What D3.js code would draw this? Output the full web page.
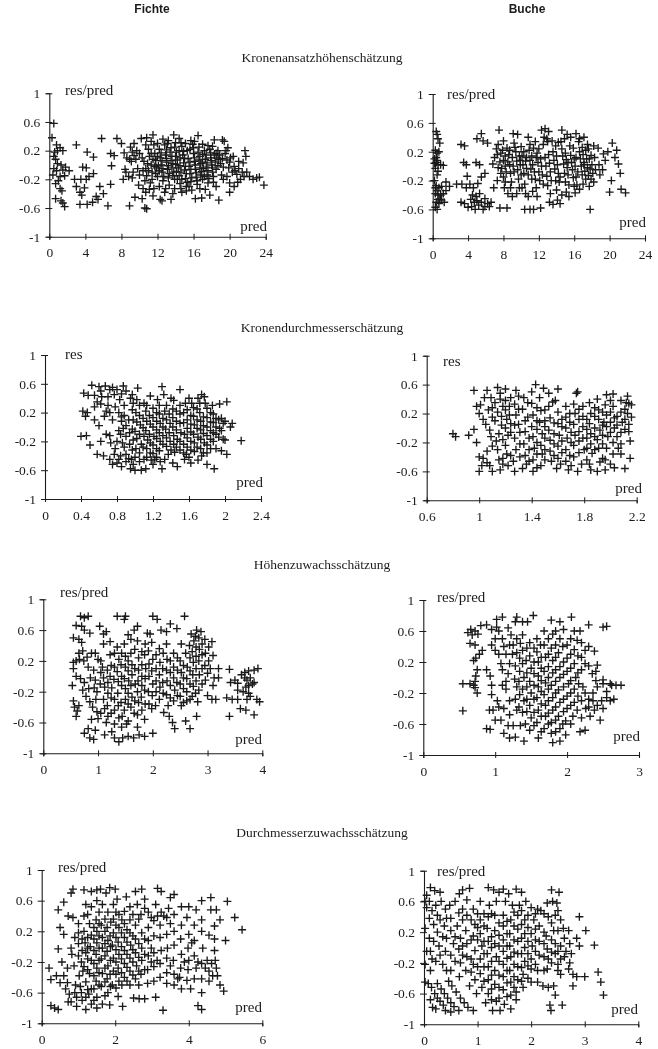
<!DOCTYPE html>
<html><head><meta charset="utf-8">
<script src="https://cdn.jsdelivr.net/npm/d3@7/dist/d3.min.js"></script>
<style>html,body{margin:0;padding:0;background:#fff}svg{display:block;filter:blur(.35px)}</style>
</head><body><svg id="c" width="658" height="1049"></svg>
<script>
const columnTitles=["Fichte","Buche"];
const sectionTitles=["Kronenansatzhöhenschätzung","Kronendurchmesserschätzung","Höhenzuwachsschätzung","Durchmesserzuwachsschätzung"];
const yTicks=[-1,-.6,-.2,.2,.6,1];
const x24=[0,4,8,12,16,20,24], xDm=[0,.4,.8,1.2,1.6,2,2.4], xDmB=[.6,1,1.4,1.8,2.2], x4=[0,1,2,3,4], x3=[0,1,2,3], x6=[0,2,4,6];

const fichteKrone=[[.5,.58],[.3,.38],[.8,.28],[1.2,.24],[.9,.2],[1.5,.2],[.6,.18],[.5,.12],[.7,.08],[3,.28],[4.2,.18],[4.9,.11],[5.8,.37],[7.5,.37],[8,.3],[7.2,.13],[6.8,.16],[.9,.02],[1.3,0],[1.8,-.03],[2.2,-.08],[6.9,-.01],[3.7,-.03],[4.1,-.04],[4.9,-.12],[.4,-.14],[1.2,-.16],[1.7,-.15],[2.8,-.2],[3.5,-.2],[4.1,-.2],[3,-.3],[3.9,-.32],[.7,-.26],[1.4,-.36],[1.2,-.33],[3.4,-.38],[3.6,-.42],[5.6,-.3],[6.8,-.27],[6,-.4],[5.2,-.44],[.7,-.47],[1.3,-.5],[1.5,-.53],[1.7,-.58],[3.4,-.55],[4.2,-.55],[4.8,-.52],[5.4,-.48],[6.5,-.57],[8.9,-.57],[10.6,-.6],[10.8,-.61],[.8,-.08],[1,-.22],[.5,-.05],[1.5,-.07],[4.4,-.16],[8.3,.17],[8.6,.1],[9,.25],[9.4,.3],[9.7,.2],[10.2,.37],[10.8,.38],[11.5,.42],[12,.3],[12.6,.36],[13.2,.34],[13.8,.42],[14.4,.37],[15.7,.34],[16.5,.41],[18.3,.35],[19.2,.35],[19.4,.33],[8.4,-.06],[8.8,-.16],[8.2,-.2],[9.1,.05],[9.3,-.1],[9.8,-.05],[9.9,-.28],[10.4,-.33],[10.7,-.38],[9.5,-.45],[10.3,-.47],[11.5,-.43],[12.3,-.48],[12.5,-.5],[13.5,-.48],[13.7,-.4],[12.2,-.3],[11.2,-.25],[10.3,.1],[10.5,.05],[10.7,-.05],[10.8,-.15],[11,.22],[11.1,.12],[11.3,0],[11.4,-.1],[11.6,.28],[11.7,.16],[11.8,.06],[11.9,-.04],[12,-.16],[12.2,.22],[12.3,.1],[12.4,0],[12.5,-.1],[12.6,-.22],[12.8,.28],[12.9,.14],[13,.04],[13.1,-.06],[13.2,-.18],[13.3,-.28],[13.5,.24],[13.6,.12],[13.7,.02],[13.8,-.1],[13.9,-.2],[14,.31],[14.1,.18],[14.2,.07],[14.3,-.04],[14.4,-.15],[14.5,-.26],[14.7,.26],[14.8,.14],[14.9,.03],[15,-.07],[15.1,-.19],[15.2,-.3],[15.3,.2],[15.4,.09],[15.5,-.02],[15.6,-.12],[15.7,-.23],[15.9,.29],[16,.16],[16.1,.05],[16.2,-.06],[16.3,-.17],[16.4,-.27],[16.6,.25],[16.7,.12],[16.8,.02],[16.9,-.09],[17,-.2],[17.2,.2],[17.3,.08],[17.4,-.03],[17.5,-.14],[17.6,-.25],[17.8,.22],[17.9,.1],[18,0],[18.1,-.1],[18.3,.14],[18.4,.04],[18.5,-.06],[18.7,.2],[18.8,.08],[19,.02],[19.1,-.14],[19.5,.16],[19.7,.07],[19.9,-.04],[20.1,.1],[20.3,-.1],[20.5,-.02],[20.8,-.13],[21,.05],[21.2,-.2],[21.5,.03],[21.7,.2],[21.8,.12],[21.9,-.1],[22.2,-.16],[22.6,-.2],[23,-.18],[23.3,-.17],[23.8,-.28],[20,-.38],[20,-.25],[20.5,-.3],[18.8,-.49],[17.8,-.42],[16.9,-.46],[16.2,-.47],[15.8,-.35],[17.3,-.34],[18.5,-.3],[14.7,-.38],[15.2,-.36],[19.3,-.2],[12.8,-.38],[11.1,-.34]];
const fichteKroneDicht=[[9.2,.18],[9.6,.08],[10,.16],[10,-.14],[10.4,-.08],[10.6,-.22],[10.9,.02],[11,-.08],[11.3,.16],[11.4,-.2],[11.5,.08],[11.7,-.02],[11.8,-.12],[12,.12],[12.1,-.01],[12.2,-.08],[12.4,.17],[12.5,.06],[12.6,-.05],[12.7,-.16],[13,.21],[13,.09],[13.2,-.01],[13.3,-.12],[13.4,.18],[13.5,.06],[13.6,-.04],[13.7,-.15],[13.9,.25],[14,.12],[14,.01],[14.1,-.09],[14.2,-.2],[14.4,.2],[14.5,.1],[14.5,-.01],[14.6,-.1],[14.7,-.2],[14.9,.19],[15,.09],[15.1,-.02],[15.2,-.12],[15.3,-.24],[15.6,.22],[15.6,.04],[15.7,-.06],[15.8,-.18],[16,.24],[16.1,.1],[16.2,0],[16.3,-.11],[16.4,-.22],[16.5,.18],[16.6,.07],[16.7,-.04],[16.8,-.14],[17,.15],[17,.04],[17.1,-.05],[17.2,-.16],[17.4,.14],[17.5,.03],[17.6,-.08],[17.7,-.19],[17.9,.17],[18,.06],[18.1,-.04],[18.2,-.16],[18.5,.16],[18.6,.1],[18.7,-.01],[18.9,.14],[19.2,.09],[19.3,-.03],[19.6,.2],[20,.04],[20.4,.12],[20.6,-.08],[21,-.05],[21.4,-.1],[21.6,-.16],[20.9,-.24],[19.7,-.16],[13.9,-.33],[14.6,-.33],[16.7,-.33],[18.2,-.24],[11.6,-.33],[12.9,-.33],[15.5,-.3],[9.4,.13],[9.2,-.18],[8.9,.08],[8.5,-.1],[10.7,.28],[11.3,.33],[13.1,.3],[14.6,.31],[15.1,.3],[16.1,.33],[17,.29],[17.6,.27],[18.1,.26],[19.8,.24]];

const bucheKrone=[[.4,.48],[.5,.44],[.6,.38],[.8,.32],[.3,.22],[.5,.18],[.7,.2],[.2,.1],[.4,.05],[.6,.02],[.9,.02],[1.2,.01],[.3,-.03],[.6,-.07],[.2,-.2],[.4,-.27],[.7,-.3],[1,-.28],[1.5,-.22],[1.9,-.28],[.3,-.38],[.6,-.4],[.9,-.4],[1.2,-.38],[1.5,-.34],[.4,-.5],[.7,-.52],[1,-.47],[1.3,-.5],[.3,-.57],[.5,-.6],[3.2,.3],[3.6,.28],[3.5,.05],[3.8,.02],[4.9,.05],[5.3,.02],[5,.38],[5.5,.45],[5.7,.35],[6.2,.32],[2.7,-.25],[3.3,-.25],[3.9,-.14],[4.2,-.25],[4.6,-.3],[5.1,-.24],[5.5,-.15],[5.9,-.1],[3.2,-.5],[3.6,-.52],[4,-.57],[4.4,-.56],[4.8,-.6],[5.2,-.54],[5.7,-.6],[6.2,-.52],[6.6,-.5],[6.4,-.56],[4.5,-.4],[4.9,-.42],[5.3,-.38],[5.9,-.45],[7.6,-.58],[8.4,-.58],[6.9,-.3],[7.3,-.2],[7.7,-.1],[6.8,.03],[7,.12],[7.2,.24],[7.5,.5],[8,.35],[7.4,.3],[7.7,.18],[8,.08],[7.8,-.03],[8,-.15],[8.1,-.3],[8.5,-.38],[8.4,.25],[8.6,.16],[8.7,.02],[8.8,-.1],[8.9,-.22],[9.1,.45],[9.6,.44],[9.2,.32],[9.4,.2],[9.5,.07],[9.6,-.05],[9.7,-.18],[9.8,-.3],[10,.27],[10.1,.14],[10.2,.02],[10.3,-.1],[10.4,-.25],[10.5,-.38],[10.8,.4],[10.9,.22],[11,.08],[11.1,-.04],[11.2,-.18],[11.3,-.35],[10.4,-.6],[11,-.6],[11.4,-.6],[12.2,-.58],[11.6,.34],[11.8,.18],[11.9,.05],[12,-.08],[12.1,-.2],[12.3,.5],[12.7,.52],[13.1,.48],[12.5,.3],[12.7,.12],[12.8,.0],[12.9,-.14],[13,-.27],[13.5,.35],[13.6,.2],[13.7,.08],[13.8,-.04],[13.9,-.2],[14,-.33],[13.2,-.5],[13.6,-.53],[14.1,-.47],[14.4,-.52],[14.6,.5],[15.2,.44],[14.9,.38],[14.6,.24],[14.7,.14],[14.8,.03],[14.9,-.1],[15,-.22],[15.1,-.36],[15.6,.4],[16.2,.45],[15.5,.28],[15.6,.15],[15.7,.05],[15.8,-.05],[15.9,-.16],[16,-.28],[15.4,-.42],[16.1,-.37],[16.5,.34],[16.6,.2],[16.7,.1],[16.8,0],[16.9,-.12],[17,-.25],[17.1,.4],[17.5,.3],[17.3,.22],[17.4,.1],[17.5,-.02],[17.6,-.13],[17.7,-.28],[17.9,.15],[18,.02],[18.1,-.1],[18.2,-.22],[18.2,.28],[18.7,.25],[18.8,.02],[18.9,-.12],[17.8,-.6],[19.2,-.05],[19.5,.08],[19.3,.17],[19.8,.2],[20.3,.32],[20.8,.22],[20.6,.12],[21,.03],[21.2,-.1],[20.2,-.2],[20,-.36],[21.3,-.32],[21.8,-.37],[9,-.42],[8.2,.0],[9.2,-.08],[10.1,-.3],[11.7,-.3],[12.5,-.25],[14.4,-.15],[15.3,.05],[16.2,.12],[16.4,-.08],[17.1,.05],[11.4,.25],[10.6,.12],[9.9,.08]];
const bucheKroneDicht=[[.4,.12],[.5,-.12],[.3,-.3],[.5,-.34],[.8,-.46],[.6,-.46],[.2,.04],[.5,.08],[7.3,.16],[7.6,.06],[7.9,.22],[8.2,.14],[8.3,-.08],[8.5,.06],[8.7,.22],[9,.12],[9.1,0],[9.3,.26],[9.8,.14],[9.9,.02],[10,-.12],[10.3,.2],[10.5,.07],[10.6,-.03],[10.8,-.12],[11,.3],[11.2,.14],[11.3,.02],[11.5,-.08],[11.6,-.18],[11.7,.12],[12,.24],[12.2,.1],[12.3,0],[12.4,-.12],[12.6,.4],[13,.34],[13.1,.16],[13.2,.04],[13.3,-.08],[13.4,-.2],[13.9,.28],[14,.14],[14.1,.02],[14.2,-.1],[14.3,-.22],[14.5,.34],[15,.18],[15.1,.09],[15.2,-.02],[15.3,-.12],[15.4,-.26],[15.9,.25],[16,.1],[16.1,0],[16.2,-.15],[16.3,-.26],[16.6,.38],[16.9,.26],[17,.16],[17.1,.02],[17.2,-.07],[17.3,-.18],[17.6,.24],[17.7,.1],[17.8,-.04],[17.9,-.18],[18.3,.12],[18.4,-.05],[12.9,.38],[14.2,.33],[7.4,-.02],[8.2,-.22],[8.8,-.3],[9.5,-.38],[10.8,-.42],[11.8,-.42],[13.3,-.38],[14.6,-.4],[16.6,-.32],[3.8,-.3],[4.3,-.46],[4.7,-.5],[5,-.48],[5.5,-.5],[5.9,-.56]];

const fichteDm=[[.43,.47],[.48,.44],[.52,.58],[.58,.35],[.62,.5],[.67,.57],[.72,.52],[.77,.45],[.8,.52],[.87,.57],[.9,.5],[.97,.45],[1.03,.54],[.42,.22],[.47,.2],[.45,.15],[.55,.1],[.6,.02],[.7,.3],[.66,.15],[.75,.1],[.63,.42],[.83,.38],[.88,.3],[.98,.33],[.4,-.13],[.46,-.12],[.5,-.25],[.62,-.2],[.68,-.1],[.72,-.12],[.58,-.38],[.65,-.4],[.72,-.45],[.77,-.38],[.8,-.5],[.85,-.55],[.9,-.48],[.95,-.58],[.98,-.52],[1.07,-.6],[1.12,-.58],[1.05,-.48],[1.2,-.52],[1.3,-.58],[1.28,-.48],[1.42,-.5],[1.47,-.55],[1.55,-.45],[1.62,-.5],[1.7,-.46],[1.8,-.52],[1.88,-.58],[1.96,-.33],[2.02,-.38],[1.9,-.3],[2.18,-.19],[2,-.18],[1.98,-.17],[2.06,.0],[2.08,.05],[2,.08],[2.02,.35],[1.94,.32],[1.86,.3],[1.74,.45],[1.72,.33],[1.6,.4],[1.5,.52],[1.43,.37],[1.3,.56],[1.32,.45],[1.35,.3],[1.25,.38],[1.17,.43],[1.13,.3],[1.05,.3],[.82,.2],[.85,.08],[.82,-.05],[.8,-.2],[.78,-.3],[.88,.16],[.9,.02],[.9,-.13],[.88,-.28],[.9,-.38],[.97,.24],[.98,.1],[.97,-.03],[.98,-.18],[.97,-.32],[1,-.42],[1.05,.16],[1.06,.03],[1.05,-.1],[1.07,-.24],[1.05,-.36],[1.12,.22],[1.13,.08],[1.12,-.05],[1.14,-.18],[1.13,-.3],[1.13,-.42],[1.2,.26],[1.2,.13],[1.2,0],[1.21,-.13],[1.2,-.25],[1.2,-.37],[1.27,.18],[1.28,.05],[1.27,-.08],[1.28,-.2],[1.27,-.33],[1.33,.22],[1.35,.1],[1.34,-.03],[1.35,-.15],[1.35,-.27],[1.37,-.38],[1.42,.25],[1.42,.13],[1.42,0],[1.43,-.12],[1.43,-.24],[1.44,-.35],[1.5,.3],[1.5,.18],[1.5,.05],[1.51,-.08],[1.5,-.2],[1.5,-.32],[1.58,.24],[1.58,.1],[1.58,-.02],[1.58,-.15],[1.58,-.28],[1.57,-.38],[1.65,.27],[1.65,.15],[1.66,.03],[1.65,-.1],[1.66,-.22],[1.66,-.34],[1.72,.2],[1.73,.08],[1.73,-.04],[1.73,-.17],[1.73,-.3],[1.8,.26],[1.8,.13],[1.8,.0],[1.8,-.12],[1.8,-.25],[1.8,-.36],[1.87,.18],[1.87,.06],[1.87,-.08],[1.87,-.2],[1.93,.1],[1.94,-.02],[1.93,-.14],[1.98,.05],[1.7,.4],[1.77,.42],[.73,-.22],[.68,.22],[1,-.6],[1.22,-.45],[1.1,.33],[.75,-.52],[.95,.4]];
const fichteDmDicht=[[.55,.44],[.6,.56],[.7,.42],[.75,.55],[.85,.46],[.55,.28],[.62,.32],[.72,.2],[.78,.28],[.85,.14],[.84,-.1],[.86,-.22],[.84,-.4],[.82,-.45],[.87,-.02],[.93,.1],[.94,-.08],[.94,-.24],[.93,-.44],[1.01,.2],[1.02,.07],[1,-.06],[1.02,-.16],[1.01,-.3],[1.09,.12],[1.09,-.01],[1.1,-.13],[1.09,-.28],[1.1,-.45],[1.16,.16],[1.17,.04],[1.16,-.1],[1.17,-.22],[1.17,-.36],[1.24,.2],[1.24,.08],[1.24,-.04],[1.24,-.16],[1.24,-.3],[1.24,-.42],[1.31,.12],[1.31,0],[1.31,-.12],[1.31,-.24],[1.38,.18],[1.39,.05],[1.38,-.08],[1.39,-.2],[1.4,-.32],[1.46,.22],[1.46,.08],[1.46,-.04],[1.47,-.17],[1.46,-.28],[1.54,.2],[1.54,.06],[1.55,-.1],[1.54,-.24],[1.54,-.36],[1.62,.16],[1.62,.04],[1.62,-.07],[1.62,-.2],[1.62,-.32],[1.69,.25],[1.69,.1],[1.69,-.02],[1.7,-.14],[1.69,-.28],[1.76,.14],[1.76,.02],[1.76,-.09],[1.77,-.22],[1.76,-.36],[1.84,.2],[1.84,.07],[1.84,-.05],[1.84,-.17],[1.84,-.3],[1.9,.12],[1.9,0],[1.9,-.1],[1.96,.12],[1.96,-.05],[1.4,.4],[1.27,.3],[1.56,.33],[1.63,.33],[1.78,.33],[1.02,.38],[.96,-.45],[1.33,-.45],[1.18,-.46],[1.6,-.42],[1.74,-.4]];

const bucheDm=[[.8,-.08],[.82,-.12],[.92,-.1],[.96,-.02],[.96,.52],[1.06,.52],[.98,.3],[1,.2],[.98,-.2],[1,-.4],[1,-.6],[1.03,-.42],[1.06,-.48],[1.04,.42],[1.07,.25],[1.05,.05],[1.08,-.03],[1.06,-.32],[1.1,-.6],[1.14,.56],[1.16,.48],[1.12,.35],[1.14,.22],[1.12,.1],[1.15,-.08],[1.13,-.18],[1.14,-.3],[1.15,-.44],[1.16,-.58],[1.2,.54],[1.2,.38],[1.2,.25],[1.21,.12],[1.2,.0],[1.22,-.1],[1.2,-.24],[1.21,-.36],[1.22,-.52],[1.28,.52],[1.27,.33],[1.28,.18],[1.27,.04],[1.27,-.14],[1.28,-.3],[1.26,-.46],[1.27,-.6],[1.34,.42],[1.33,.26],[1.35,.1],[1.35,-.05],[1.34,-.22],[1.35,-.38],[1.36,-.5],[1.4,.5],[1.43,.6],[1.4,.34],[1.41,.18],[1.4,.02],[1.41,-.12],[1.42,-.28],[1.41,-.44],[1.41,-.6],[1.46,.42],[1.49,.55],[1.47,.24],[1.46,.08],[1.48,-.08],[1.47,-.24],[1.48,-.36],[1.47,-.52],[1.53,.48],[1.6,.54],[1.53,.3],[1.54,.14],[1.53,-.03],[1.54,-.17],[1.54,-.32],[1.55,-.46],[1.58,.38],[1.6,.22],[1.6,.06],[1.61,-.1],[1.6,-.25],[1.6,-.42],[1.59,-.56],[1.66,.3],[1.66,.15],[1.66,0],[1.67,-.14],[1.66,-.3],[1.66,-.46],[1.68,-.58],[1.74,.48],[1.75,.5],[1.72,.33],[1.73,.2],[1.72,.05],[1.73,-.1],[1.72,-.24],[1.72,-.4],[1.75,-.6],[1.79,.3],[1.79,.16],[1.79,.02],[1.79,-.14],[1.8,-.3],[1.78,-.5],[1.84,.35],[1.85,.2],[1.84,.06],[1.85,-.08],[1.85,-.22],[1.86,-.35],[1.85,-.58],[1.9,.4],[1.91,.25],[1.91,.12],[1.92,-.03],[1.9,-.16],[1.91,-.28],[1.92,-.47],[1.9,-.6],[1.97,.46],[1.96,.32],[1.97,.18],[1.97,.02],[1.98,-.12],[1.97,-.28],[1.96,-.44],[1.96,-.58],[2.02,.47],[2.02,.3],[2.03,.14],[2.03,0],[2.02,-.2],[2.02,-.36],[2.03,-.55],[2.08,.38],[2.08,.22],[2.09,.08],[2.08,-.06],[2.08,-.22],[2.08,-.36],[2.11,-.56],[2.13,.44],[2.14,.34],[2.13,.2],[2.14,.05],[2.14,-.05],[2.16,.15],[2.16,.32],[2.15,-.18],[2.15,-.42],[1.3,.05],[1.1,.15],[1.5,.1],[1.63,.12],[1.18,.3],[1.24,.42],[1.44,-.02],[1.37,.15],[1.76,-.05],[1.95,.08]];
const bucheDmDicht=[[1.01,.32],[1.03,.12],[1.09,.42],[1.1,.28],[1.09,-.12],[1.1,-.25],[1.16,.4],[1.17,.16],[1.17,.04],[1.18,-.16],[1.18,-.42],[1.23,.3],[1.23,.18],[1.24,.06],[1.24,-.06],[1.24,-.38],[1.3,.44],[1.3,.26],[1.31,-.06],[1.31,-.22],[1.31,-.4],[1.37,.35],[1.38,-.14],[1.38,-.3],[1.38,-.46],[1.44,.28],[1.44,.1],[1.44,-.2],[1.44,-.36],[1.5,.25],[1.5,.02],[1.5,-.14],[1.5,-.3],[1.5,-.44],[1.56,.36],[1.57,.07],[1.57,-.08],[1.57,-.22],[1.57,-.38],[1.63,.02],[1.63,-.18],[1.63,-.34],[1.69,.2],[1.69,.08],[1.7,-.06],[1.7,-.2],[1.69,-.38],[1.76,.26],[1.76,.12],[1.76,-.18],[1.76,-.34],[1.82,.12],[1.82,-.02],[1.82,-.14],[1.82,-.28],[1.82,-.44],[1.88,.28],[1.88,.16],[1.88,0],[1.88,-.12],[1.88,-.3],[1.94,.22],[1.94,.04],[1.94,-.1],[1.94,-.22],[1.94,-.42],[2,.38],[2,.22],[2,.08],[2,-.06],[2.05,.16],[2.05,.04],[2.05,-.12],[2.06,-.28],[2.11,.26],[2.11,.12],[2.11,-.02],[2.12,.35],[1.02,-.52],[1.08,-.52],[1.18,-.5],[1.33,-.56],[1.44,-.55],[1.62,-.5],[1.7,-.52],[1.84,-.5],[2,-.5]];

const fichteHz=[[.6,.66],[.68,.78],[.75,.76],[.82,.78],[.7,.65],[.75,.6],[.55,.5],[.65,.48],[.7,.44],[1.03,.65],[1.1,.55],[1.15,.58],[.85,.56],[1.35,.78],[1.5,.78],[1.48,.74],[2,.78],[2.08,.74],[2.58,.78],[2.32,.68],[2.44,.62],[1.72,.65],[1.66,.6],[1.55,.54],[1.95,.55],[2.15,.6],[2.25,.58],[2.8,.6],[2.88,.58],[.55,.18],[.55,.1],[.6,.2],[.65,.3],[.72,.33],[.8,.25],[.88,.3],[.95,.3],[1,.22],[.6,0],[.53,-.12],[.68,-.03],[.72,-.18],[.75,-.08],[.55,-.32],[.57,-.4],[.62,-.45],[.6,-.52],[.65,-.38],[.78,-.26],[.85,-.33],[.9,-.4],[.88,-.56],[.82,-.68],[.75,-.74],[.85,-.8],[.92,-.82],[.95,-.7],[1,-.55],[1.05,-.48],[.98,-.2],[.95,-.05],[.92,.08],[1.08,.12],[1.1,-.02],[1.12,-.14],[1.1,-.3],[1.12,-.42],[1.15,-.6],[1.12,-.76],[1.25,-.72],[1.3,-.8],[1.38,-.85],[1.45,-.8],[1.55,-.78],[1.65,-.8],[1.75,-.76],[1.85,-.78],[2,-.74],[1.3,-.62],[1.22,.28],[1.24,.14],[1.22,0],[1.25,-.15],[1.24,-.28],[1.24,-.48],[1.35,.38],[1.38,.22],[1.35,.06],[1.37,-.07],[1.36,-.22],[1.37,-.38],[1.38,-.54],[1.48,.42],[1.5,.26],[1.5,.12],[1.48,-.03],[1.5,-.16],[1.5,-.3],[1.48,-.44],[1.52,-.62],[1.6,.3],[1.62,.15],[1.62,.02],[1.6,-.12],[1.62,-.27],[1.6,-.4],[1.55,-.58],[1.72,.46],[1.74,.24],[1.74,.08],[1.73,-.06],[1.72,-.2],[1.74,-.34],[1.72,-.5],[1.72,-.66],[1.86,.42],[1.85,.28],[1.87,.1],[1.86,-.03],[1.85,-.18],[1.86,-.36],[1.85,-.56],[1.98,.44],[2,.22],[1.98,.07],[2,-.1],[1.99,-.25],[1.98,-.42],[2.12,.36],[2.13,.18],[2.12,.02],[2.13,-.14],[2.12,-.3],[2.2,-.47],[2.25,.42],[2.26,.22],[2.25,.08],[2.26,-.06],[2.25,-.24],[2.28,-.38],[2.3,-.52],[2.38,.3],[2.38,.12],[2.38,-.02],[2.4,-.18],[2.38,-.32],[2.36,-.6],[2.4,-.68],[2.52,.42],[2.5,.2],[2.52,.05],[2.5,-.1],[2.5,-.26],[2.52,-.38],[2.6,.3],[2.63,.12],[2.62,-.03],[2.62,-.2],[2.62,-.32],[2.7,.55],[2.75,.46],[2.72,.32],[2.74,.18],[2.73,.02],[2.74,-.13],[2.72,-.26],[2.84,.5],[2.85,.35],[2.84,.2],[2.85,.02],[2.84,-.18],[2.82,-.33],[2.95,.48],[2.96,.3],[2.95,.14],[2.96,-.05],[3,-.25],[3.08,.45],[3.1,.27],[3.05,.1],[3.12,-.02],[3.1,-.12],[3.2,.1],[3.2,-.02],[3.15,-.3],[3.08,-.3],[2.6,-.58],[2.68,-.68],[2.8,-.52],[3.4,.09],[3.42,-.08],[3.5,-.05],[3.55,-.09],[3.4,-.52],[3.35,-.28],[3.45,-.3],[3.55,-.3],[3.6,-.42],[3.7,-.44],[3.85,-.5],[3.9,-.3],[3.95,-.33],[3.62,.02],[3.68,.05],[3.75,.07],[3.85,.08],[3.92,.1],[3.72,-.05],[3.78,-.02],[3.82,-.1],[3.7,-.14],[3.65,-.2],[3.75,-.22],[3.85,-.08],[3.72,-.3]];
const fichteHzDicht=[[.66,.22],[.74,.2],[.82,.12],[.86,-.02],[.83,-.16],[.93,-.15],[.96,-.3],[.98,-.46],[1.04,-.1],[1.05,.05],[1.05,.2],[1.17,.08],[1.18,-.08],[1.18,-.22],[1.17,-.38],[1.18,-.52],[1.3,.3],[1.3,.12],[1.29,-.04],[1.3,-.3],[1.3,-.44],[1.43,.3],[1.42,.15],[1.43,0],[1.43,-.12],[1.42,-.34],[1.44,-.52],[1.43,-.66],[1.55,.2],[1.55,.07],[1.56,-.06],[1.55,-.22],[1.55,-.36],[1.67,.35],[1.67,.1],[1.68,-.1],[1.67,-.32],[1.66,-.48],[1.8,.32],[1.8,.15],[1.8,0],[1.8,-.12],[1.79,-.27],[1.8,-.44],[1.92,.33],[1.93,.16],[1.93,0],[1.92,-.2],[1.93,-.36],[2.06,.28],[2.06,.1],[2.06,-.06],[2.06,-.2],[2.05,-.38],[2.19,.3],[2.18,.1],[2.18,-.08],[2.19,-.22],[2.32,.2],[2.32,.05],[2.32,-.12],[2.32,-.28],[2.45,.24],[2.45,.08],[2.44,-.08],[2.45,-.25],[2.56,.14],[2.56,-.02],[2.56,-.16],[2.56,-.34],[2.67,.4],[2.68,.24],[2.68,.07],[2.68,-.1],[2.68,-.3],[2.78,.52],[2.79,.38],[2.79,.26],[2.79,.1],[2.79,-.06],[2.78,-.22],[2.9,.42],[2.9,.28],[2.9,.1],[2.9,-.1],[3.02,.38],[3.02,.2],[3,.04],[3.68,-.02],[3.75,-.12],[3.78,-.26],[3.55,-.18],[1.1,.42],[1.22,.45],[1.6,.48],[1.9,.56]];

const bucheHz=[[.55,-.43],[.55,-.08],[.65,-.08],[.7,-.1],[.75,-.2],[.72,-.13],[.72,-.05],[.73,.02],[.75,.1],[.7,.22],[.73,.25],[.62,.58],[.68,.55],[.72,.6],[.8,.67],[.65,.44],[.72,.42],[.78,.3],[.82,.35],[.88,.1],[.93,.02],[.95,-.1],[.95,-.22],[.92,-.42],[.97,-.42],[.88,-.66],[.93,-.67],[1.02,.75],[1.1,.78],[1.02,.65],[1.05,.6],[1.1,.5],[1,.35],[1.05,.3],[1.08,.18],[1.03,-.3],[1.05,-.38],[1,-.55],[1.08,-.55],[1.12,-.72],[1.15,-.15],[1.15,-.05],[1.18,.05],[1.15,.3],[1.2,.42],[1.18,.64],[1.22,.55],[1.2,-.3],[1.2,-.48],[1.2,-.78],[1.25,-.62],[1.28,.72],[1.3,.78],[1.38,.72],[1.3,.5],[1.3,.32],[1.28,.15],[1.27,-.02],[1.3,-.12],[1.28,-.28],[1.3,-.42],[1.28,-.77],[1.38,.55],[1.38,.35],[1.38,.18],[1.4,.0],[1.38,-.15],[1.4,-.3],[1.38,-.45],[1.35,-.62],[1.4,-.82],[1.45,.72],[1.53,.8],[1.48,.45],[1.48,.28],[1.5,.12],[1.48,-.05],[1.5,-.2],[1.48,-.36],[1.5,-.52],[1.48,-.68],[1.58,.5],[1.58,.33],[1.6,.2],[1.6,.02],[1.6,-.12],[1.58,-.26],[1.6,-.42],[1.58,-.58],[1.6,-.78],[1.68,.6],[1.68,.42],[1.7,.26],[1.68,.08],[1.7,-.07],[1.68,-.22],[1.7,-.36],[1.7,-.5],[1.68,-.66],[1.78,.74],[1.8,.56],[1.78,.38],[1.8,.22],[1.8,.06],[1.78,-.1],[1.8,-.26],[1.8,-.42],[1.78,-.58],[1.78,-.72],[1.8,-.84],[1.9,.72],[1.9,.5],[1.88,.32],[1.9,.14],[1.9,0],[1.88,-.16],[1.9,-.32],[1.88,-.5],[1.9,-.66],[1.9,-.82],[1.95,.62],[2,.42],[2,.25],[2,.08],[2.02,-.08],[2,-.24],[2,-.4],[1.98,-.56],[1.98,-.74],[2.06,.78],[2.1,.6],[2.1,.36],[2.1,.18],[2.12,0],[2.1,-.15],[2.1,-.32],[2.08,-.5],[2.18,.6],[2.2,.45],[2.2,.26],[2.2,.1],[2.22,-.12],[2.2,-.3],[2.2,-.52],[2.18,-.7],[2.25,-.68],[2.3,.68],[2.3,.4],[2.3,.15],[2.3,-.28],[2.3,-.38],[2.32,-.5],[2.4,.08],[2.42,.16],[2.4,-.04],[2.38,-.42],[2.42,-.36],[2.35,.05],[2.46,-.55],[2.5,-.4],[2.48,-.3],[2.42,-.12],[2.5,-.08],[2.55,.66],[2.5,.65],[2.5,-.03],[2.55,-.18],[2.6,-.08],[2.62,-.1],[2.75,-.1],[2.65,-.28],[2.6,-.3],[2.55,-.26],[2.68,-.1]];
const bucheHzDicht=[[.66,.62],[.76,.56],[.88,.68],[.95,.62],[1.12,.4],[1.24,.3],[1.2,.18],[1.1,-.1],[1.12,-.4],[1.18,-.62],[1.25,.42],[1.35,.44],[1.34,.25],[1.34,.08],[1.33,-.05],[1.34,-.22],[1.33,-.38],[1.44,.38],[1.43,.22],[1.44,.06],[1.44,-.12],[1.44,-.28],[1.44,-.44],[1.42,-.6],[1.54,.38],[1.54,.2],[1.54,.05],[1.54,-.1],[1.54,-.28],[1.54,-.45],[1.54,-.62],[1.63,.42],[1.64,.26],[1.64,.12],[1.64,-.04],[1.64,-.18],[1.64,-.34],[1.64,-.5],[1.64,-.7],[1.74,.5],[1.74,.3],[1.74,.14],[1.74,0],[1.74,-.15],[1.74,-.3],[1.74,-.46],[1.74,-.6],[1.84,.6],[1.84,.42],[1.84,.26],[1.84,.1],[1.84,-.05],[1.84,-.2],[1.84,-.38],[1.84,-.55],[1.84,-.7],[1.94,.4],[1.95,.2],[1.95,.04],[1.95,-.12],[1.95,-.28],[1.95,-.44],[1.94,-.6],[2.05,.5],[2.05,.3],[2.05,.12],[2.05,-.04],[2.05,-.2],[2.05,-.36],[2.05,-.6],[2.14,.48],[2.15,.28],[2.15,.06],[2.16,-.08],[2.15,-.24],[2.14,-.42],[2.25,.35],[2.25,.18],[2.25,-.2],[2.26,-.4],[2.38,.34],[2.36,-.2],[2.36,-.3],[1.1,.1],[1,.5],[.95,.42]];

const fichteDz=[[.45,.48],[.6,.58],[.8,.7],[.85,.75],[1.15,.74],[1.35,.72],[1.5,.74],[1.6,.75],[1.85,.77],[2,.75],[2.55,.72],[2.72,.75],[3.15,.76],[3.25,.72],[3.5,.64],[3.6,.68],[4.35,.6],[4.6,.64],[5.05,.59],[5.25,.38],[5.45,.22],[4.6,.48],[4.75,.48],[4.85,.35],[4.7,.27],[5,.08],[.45,-.03],[.5,.25],[.6,.16],[.2,-.28],[.25,-.43],[.25,-.77],[.35,-.8],[.45,-.82],[.4,-.38],[.5,-.47],[.55,-.2],[.6,-.38],[.65,-.55],[.7,-.28],[.7,-.47],[.75,-.62],[.8,-.72],[.72,.4],[.85,.38],[.9,.12],[.8,-.02],[.82,-.1],[.88,-.25],[.92,-.5],[.95,-.66],[.95,-.78],[1,.3],[1,.18],[1,.04],[1,-.12],[1.02,-.38],[1.05,-.52],[1.1,-.7],[1.2,.55],[1.15,.4],[1.15,.2],[1.18,.05],[1.2,-.08],[1.15,-.26],[1.2,-.46],[1.2,-.66],[1.2,-.82],[1.35,.52],[1.3,.3],[1.35,.15],[1.32,0],[1.35,-.18],[1.3,-.35],[1.35,-.55],[1.35,-.75],[1.5,.6],[1.48,.35],[1.5,.2],[1.5,.05],[1.48,-.1],[1.5,-.28],[1.48,-.45],[1.5,-.66],[1.5,-.8],[1.65,.55],[1.62,.28],[1.65,.12],[1.65,-.02],[1.62,-.16],[1.65,-.35],[1.62,-.52],[1.65,-.75],[1.75,.7],[1.8,.45],[1.78,.25],[1.8,.08],[1.78,-.06],[1.8,-.25],[1.78,-.42],[1.8,-.6],[1.85,-.76],[1.95,.55],[1.95,.36],[1.95,.18],[1.92,.02],[1.95,-.15],[1.95,-.32],[1.92,-.5],[2.05,.62],[2.1,.42],[2.1,.25],[2.08,.06],[2.1,-.1],[2.08,-.28],[2.1,-.45],[2.08,-.65],[2.2,-.78],[2.3,.65],[2.25,.46],[2.25,.3],[2.25,.12],[2.25,-.05],[2.25,-.22],[2.25,-.4],[2.4,.52],[2.4,.35],[2.4,.18],[2.42,.02],[2.4,-.15],[2.4,-.32],[2.4,-.5],[2.5,-.67],[2.6,.55],[2.55,.28],[2.55,.1],[2.55,-.08],[2.58,-.25],[2.55,-.42],[2.65,-.68],[2.8,.62],[2.7,.42],[2.72,.18],[2.72,-.02],[2.72,-.18],[2.7,-.36],[2.8,-.68],[2.9,.45],[2.9,.25],[2.9,.08],[2.9,-.12],[2.88,-.3],[2.88,-.48],[3.1,.55],[3.05,.34],[3.05,.14],[3.05,-.08],[3.05,-.26],[3.05,-.45],[3.1,-.66],[3.3,-.83],[3.25,.45],[3.22,.28],[3.22,.12],[3.25,-.05],[3.22,-.22],[3.22,-.4],[3.45,.5],[3.4,.38],[3.4,.16],[3.42,-.02],[3.4,-.15],[3.4,-.34],[3.4,-.48],[3.6,.42],[3.6,.2],[3.6,.02],[3.58,-.18],[3.6,-.36],[3.6,-.5],[3.8,.52],[3.8,.28],[3.78,.1],[3.8,-.1],[3.78,-.28],[3.75,-.4],[3.8,-.55],[4,.52],[3.95,.38],[4,.16],[3.98,-.02],[4,-.18],[3.98,-.3],[3.95,-.44],[4.05,-.55],[4.25,-.77],[4.35,-.82],[4.2,.48],[4.15,.28],[4.15,.08],[4.15,-.12],[4.2,-.28],[4.15,-.42],[4.35,.35],[4.35,.2],[4.38,-.02],[4.35,-.22],[4.35,-.42],[4.35,-.6],[4.55,.15],[4.5,-.18],[4.55,-.32],[4.55,-.45],[4.7,.1],[4.7,-.05],[4.72,-.18],[4.75,-.28],[4.78,-.38],[4.85,-.5],[4.95,-.58]];
const fichteDzDicht=[[.72,-.72],[.9,-.6],[1.08,-.6],[1.28,-.62],[1.42,-.7],[1.1,.1],[1.1,-.05],[1.08,-.2],[1.12,-.32],[1.25,.42],[1.25,.12],[1.25,-.02],[1.25,-.16],[1.25,-.3],[1.25,-.56],[1.42,.25],[1.42,.1],[1.42,-.05],[1.42,-.22],[1.42,-.38],[1.42,-.55],[1.56,.45],[1.56,.3],[1.56,.14],[1.56,-.02],[1.56,-.18],[1.56,-.34],[1.56,-.5],[1.72,.36],[1.72,.2],[1.72,.04],[1.72,-.12],[1.72,-.28],[1.72,-.46],[1.72,-.64],[1.88,.32],[1.86,.14],[1.87,0],[1.87,-.18],[1.86,-.36],[1.87,-.52],[2.02,.45],[2.02,.28],[2.02,.12],[2.02,-.04],[2.02,-.2],[2.02,-.36],[2.02,-.54],[2.18,.35],[2.17,.18],[2.17,0],[2.17,-.16],[2.17,-.34],[2.18,-.5],[2.32,.22],[2.32,.06],[2.32,-.1],[2.32,-.27],[2.32,-.45],[2.48,.42],[2.48,.14],[2.48,-.04],[2.48,-.2],[2.48,-.37],[2.64,.36],[2.64,.04],[2.64,-.14],[2.64,-.32],[2.64,-.5],[2.8,.5],[2.8,.1],[2.8,-.1],[2.8,-.3],[2.98,.38],[2.98,-.02],[2.98,-.2],[3.15,.4],[3.14,-.18],[3.32,.4],[3.5,.3],[3.5,-.25],[3.7,-.42],[4.25,-.2],[4.45,-.28],[4.62,-.22],[4.65,-.38],[3.88,-.2],[4.08,.05]];

const bucheDz=[[.02,.6],[.05,.68],[.12,.78],[.2,.74],[.3,.72],[.05,.52],[.15,.48],[.25,.42],[.02,.25],[.1,.38],[.18,.3],[.1,.12],[.18,.08],[.28,.02],[.05,-.05],[.15,-.15],[.22,-.18],[.02,-.22],[.12,-.3],[.02,-.45],[.08,-.47],[.14,-.52],[.2,-.6],[.25,-.66],[.3,-.7],[.36,-.75],[.12,-.68],[.16,-.78],[.22,-.8],[.25,-.47],[.32,-.54],[.38,-.6],[.44,-.66],[.5,-.72],[.56,-.77],[.4,-.82],[.5,-.84],[.65,-.82],[.46,-.44],[.52,-.5],[.6,-.58],[.68,-.66],[.75,-.72],[.82,-.78],[.92,-.82],[.32,.6],[.4,.5],[.38,.28],[.35,.14],[.4,-.05],[.35,-.22],[.48,.55],[.5,.38],[.5,.22],[.55,.05],[.5,-.1],[.5,-.3],[.58,.6],[.66,.7],[.72,.75],[.85,.77],[.65,.45],[.62,.28],[.68,.12],[.65,-.02],[.68,-.2],[.66,-.38],[.8,.62],[.8,.42],[.78,.22],[.8,.05],[.8,-.12],[.78,-.3],[.85,-.5],[.92,.5],[.95,.3],[.92,.15],[.95,-.04],[.92,-.22],[.95,-.42],[.98,-.6],[1.05,.6],[1.05,.36],[1.05,.18],[1.08,.02],[1.05,-.15],[1.05,-.34],[1.08,-.52],[1.15,-.72],[1.2,.78],[1.3,.75],[1.22,.55],[1.2,.4],[1.18,.25],[1.2,.08],[1.18,-.08],[1.2,-.25],[1.2,-.42],[1.2,-.6],[1.28,-.82],[1.4,.72],[1.48,.76],[1.35,.6],[1.32,.42],[1.32,.22],[1.32,.05],[1.35,-.12],[1.32,-.3],[1.32,-.48],[1.35,-.7],[1.42,-.82],[1.52,.6],[1.48,.42],[1.48,.28],[1.48,.1],[1.48,-.05],[1.48,-.22],[1.48,-.38],[1.48,-.55],[1.5,-.74],[1.58,.7],[1.72,.76],[1.82,.72],[1.65,.55],[1.62,.36],[1.6,.18],[1.6,.02],[1.62,-.12],[1.6,-.3],[1.62,-.45],[1.62,-.62],[1.62,-.8],[1.78,.55],[1.75,.42],[1.75,.24],[1.75,.08],[1.75,-.08],[1.75,-.25],[1.75,-.42],[1.72,-.58],[1.72,-.68],[1.9,.6],[1.88,.36],[1.88,.18],[1.88,0],[1.88,-.18],[1.85,-.35],[1.85,-.52],[2,.52],[2.05,.36],[2,.18],[2.02,.02],[2,-.15],[2,-.28],[2,-.45],[2.12,.5],[2.18,.48],[2.15,.28],[2.15,.08],[2.15,-.1],[2.12,-.3],[2.12,-.45],[2.22,-.5],[2.3,.58],[2.32,.4],[2.28,.15],[2.3,-.02],[2.32,-.15],[2.3,-.28],[2.32,-.52],[2.38,.75],[2.52,.72],[2.4,.6],[2.48,.58],[2.45,.42],[2.5,.48],[2.42,.22],[2.45,.05],[2.45,-.08],[2.42,-.5],[2.45,-.62],[2.35,-.75],[2.37,-.82],[2.58,-.75],[2.55,.36],[2.6,.25],[2.55,.02],[2.55,-.15],[2.5,-.3],[2.55,-.35],[2.7,.22],[2.72,.05],[2.65,-.05],[2.75,-.08],[2.72,-.2],[2.7,-.28],[2.78,-.35],[2.78,-.5],[2.85,-.38],[2.9,.4],[2.85,.12],[2.9,.02],[3.02,.22],[3,-.38],[3.18,.03],[3.25,-.32],[3.3,-.45],[3.35,-.62]];
const bucheDzDicht=[[.1,.6],[.22,.55],[.42,.38],[.3,.36],[.25,.2],[.42,.12],[.12,-.05],[.3,-.1],[.42,-.3],[.58,-.18],[.58,.14],[.72,.5],[.72,.36],[.72,.02],[.72,-.1],[.88,.36],[.88,.1],[.88,-.15],[.88,-.32],[1,.44],[1,.26],[1,.1],[1,-.25],[1.12,.44],[1.12,.28],[1.12,.08],[1.12,-.08],[1.12,-.25],[1.12,-.44],[1.26,.44],[1.26,.14],[1.26,0],[1.26,-.18],[1.26,-.36],[1.26,-.54],[1.26,-.68],[1.4,.32],[1.4,.16],[1.4,.02],[1.4,-.18],[1.4,-.36],[1.4,-.52],[1.4,-.66],[1.55,.34],[1.55,.18],[1.55,.02],[1.55,-.14],[1.55,-.3],[1.55,-.46],[1.55,-.64],[1.68,.46],[1.68,.28],[1.68,.1],[1.68,-.06],[1.68,-.22],[1.68,-.38],[1.68,-.52],[1.82,.48],[1.82,.3],[1.82,.12],[1.82,-.08],[1.82,-.26],[1.82,-.44],[1.94,.42],[1.94,.26],[1.94,.08],[1.94,-.08],[1.94,-.24],[1.94,-.4],[2.08,.44],[2.08,.24],[2.08,.1],[2.08,-.05],[2.08,-.22],[2.24,.44],[2.24,.2],[2.24,.05],[2.24,-.12],[2.24,-.3],[2.38,.32],[2.38,.1],[2.38,-.06],[2.38,-.2],[2.5,.22],[2.5,-.05],[2.5,-.22],[2.62,.12],[2.62,-.12]];

const layout=[
 {title:0,d:fichteKrone.concat(fichteKroneDicht),xd:[0,24],xt:x24,x:[49.3,265.7],y:[93.3,236.7],yl:"res/pred",ylx:65,yly:95,prx:267,pry:231,ty:58},
 {title:-1,d:bucheKrone.concat(bucheKroneDicht),xd:[0,24],xt:x24,x:[432.7,645],y:[94,238.3],yl:"res/pred",ylx:447,yly:99,prx:646,pry:227},
 {title:1,d:fichteDm.concat(fichteDmDicht),xd:[0,2.4],xt:xDm,x:[45,261],y:[355,499],yl:"res",ylx:65,yly:359,prx:263,pry:487,ty:328},
 {title:-1,d:bucheDm.concat(bucheDmDicht),xd:[.6,2.2],xt:xDmB,x:[426.7,636.7],y:[355.7,500.3],yl:"res",ylx:443,yly:366,prx:642,pry:493},
 {title:2,d:fichteHz.concat(fichteHzDicht),xd:[0,4],xt:x4,x:[43.3,262.3],y:[599.3,753.3],yl:"res/pred",ylx:60,yly:597,prx:262,pry:744,ty:565},
 {title:-1,d:bucheHz.concat(bucheHzDicht),xd:[0,3],xt:x3,x:[423.3,639],y:[600,755],yl:"res/pred",ylx:437,yly:602,prx:640,pry:741},
 {title:3,d:fichteDz.concat(fichteDzDicht),xd:[0,6],xt:x6,x:[41.7,262.3],y:[870,1023.3],yl:"res/pred",ylx:58,yly:872,prx:262,pry:1012,ty:833},
 {title:-1,d:bucheDz.concat(bucheDzDicht),xd:[0,4],xt:x4,x:[424,638.3],y:[870.7,1024.3],yl:"res/pred",ylx:437,yly:876,prx:638,pry:1014}
];

const svg=d3.select("#c");
const serif="'Liberation Serif','Times New Roman',serif", ink="#1c1c1c";
svg.append("g").selectAll("text").data(columnTitles).join("text")
 .attr("x",(d,i)=>[152,527][i]).attr("y",13).attr("text-anchor","middle")
 .attr("font-family","'Liberation Sans',Arial,sans-serif").attr("font-weight","bold").attr("font-size",12).attr("fill",ink).text(d=>d);

layout.forEach(p=>{
 const g=svg.append("g");
 const sx=d3.scaleLinear().domain(p.xd).range(p.x), sy=d3.scaleLinear().domain([-1,1]).range([p.y[1],p.y[0]]);
 if(p.title>=0) g.append("text").attr("x",322).attr("y",p.ty+4).attr("text-anchor","middle").attr("font-family",serif).attr("font-size",13.5).attr("fill",ink).text(sectionTitles[p.title]);
 const ax=g.append("g").attr("transform",`translate(0,${p.y[1]})`).call(d3.axisBottom(sx).tickValues(p.xt).tickFormat(String).tickSizeOuter(0).tickSize(3).tickPadding(8));
 const ay=g.append("g").attr("transform",`translate(${p.x[0]},0)`).call(d3.axisLeft(sy).tickValues(yTicks).tickFormat(String).tickSizeOuter(0).tickSize(3).tickPadding(6));
 ax.selectAll(".tick line").attr("y1",-3);
 ay.selectAll(".tick line").attr("x1",3).attr("x2",-4);
 [ax,ay].forEach(a=>{a.select(".domain").attr("stroke",ink).attr("stroke-width",1.1);
  a.selectAll(".tick line").attr("stroke",ink).attr("stroke-width",1);
  a.selectAll("text").attr("font-family",serif).attr("font-size",13.5).attr("fill",ink);});
 g.append("g").selectAll("path").data(p.d).join("path")
  .attr("d",d=>`M${sx(d[0])-4},${sy(d[1])}h8M${sx(d[0])},${sy(d[1])-4}v8`)
  .attr("stroke","#1a1a1a").attr("stroke-width",1.35).attr("fill","none");
 g.append("text").attr("x",p.ylx).attr("y",p.yly).attr("font-family",serif).attr("font-size",15).attr("fill",ink).text(p.yl);
 g.append("text").attr("x",p.prx).attr("y",p.pry).attr("text-anchor","end").attr("font-family",serif).attr("font-size",15).attr("fill",ink).text("pred");
});
</script></body></html>
